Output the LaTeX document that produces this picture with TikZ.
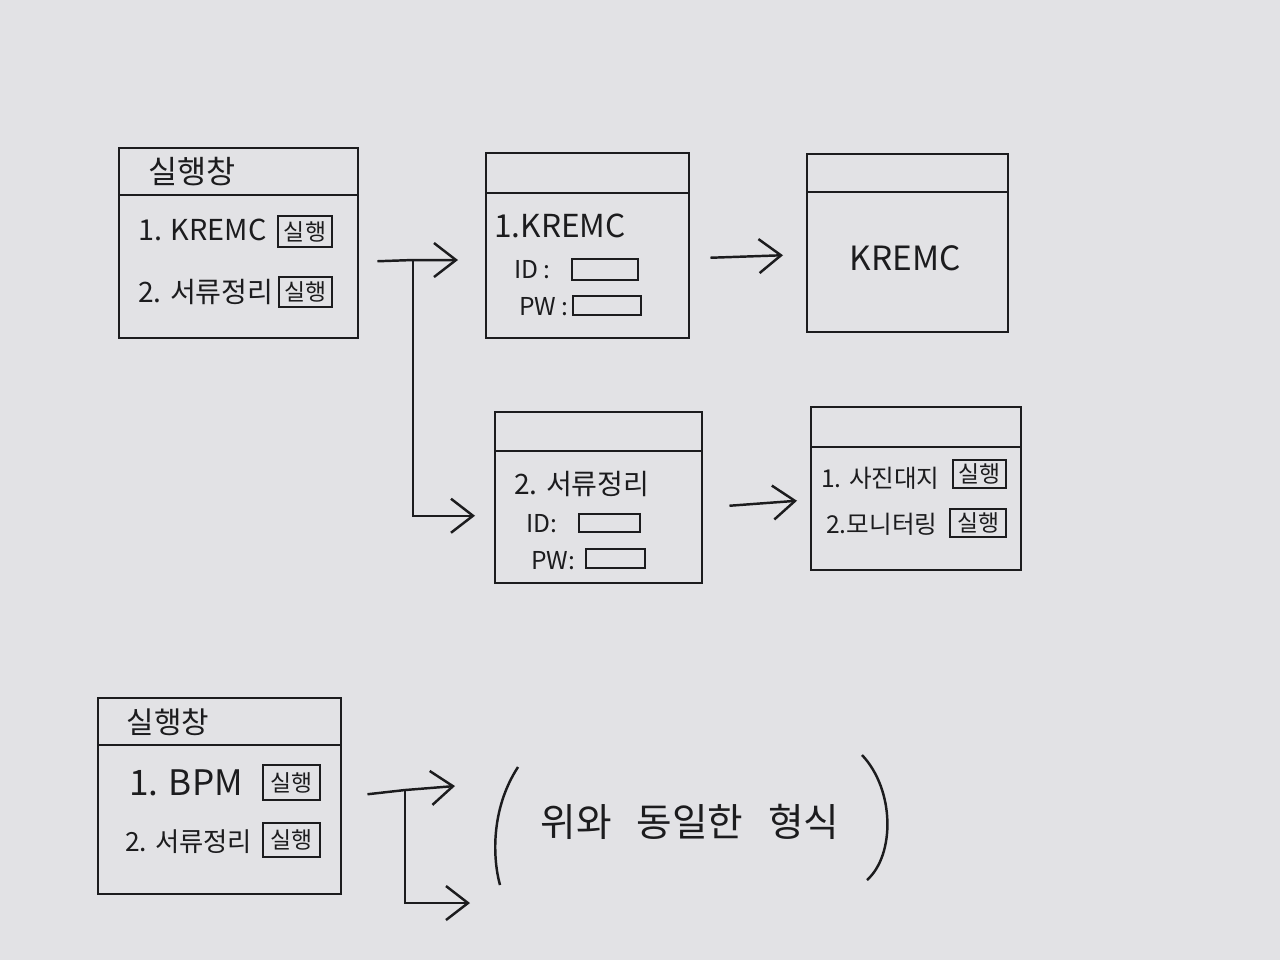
\documentclass[tikz,border=0pt]{standalone}
\usepackage{fontspec}
\setmainfont{Noto Sans CJK KR}
\usepackage{tikz}
\usetikzlibrary{positioning, arrows.meta}
\definecolor{paper}{RGB}{226,226,229}
\definecolor{pen}{RGB}{28,28,30}
\tikzset{
	>={Straight Barb[length=2.2mm,width=3.4mm]}, % open arrow heads as in the sketch
	window/.style={draw=pen, anchor=north west, inner sep=0pt}, % a window frame
	title/.style={font=\fontsize{9}{10}\selectfont}, % window title
	item/.style={anchor=west, inner sep=0pt, font=\fontsize{8}{9}\selectfont}, % menu line
	small/.style={anchor=west, inner sep=0pt, font=\fontsize{7}{8}\selectfont}, % ID / PW
	btn/.style={draw=pen, inner sep=0pt, font=\fontsize{6.5}{7}\selectfont}, % run button
	field/.style={draw=pen, inner sep=0pt}, % input box
}

\begin{document}
\begin{tikzpicture}[line width=0.7pt, color=pen, text=pen]
	\path[use as bounding box, fill=paper] (0,0) rectangle (12.8,-9.6);

	% launcher window (top)
	\node[window, minimum width=2.39cm, minimum height=1.90cm] (main1) at (1.18,-1.47) {};
	\draw ([yshift=-0.48cm]main1.north west) -- ([yshift=-0.48cm]main1.north east);
	\node[title] (main1t) at (1.92,-1.72) {실행창};
	\node[item, font=\fontsize{8.2}{9}\selectfont] (main1a) at (1.37,-2.30) {1. KREMC};
	\node[btn, minimum width=0.54cm, minimum height=0.31cm] (main1b) at (3.05,-2.315) {실행};
	\node[item] (main1c) at (1.37,-2.92) {2. 서류정리};
	\node[btn, minimum width=0.53cm, minimum height=0.30cm] (main1d) at (3.055,-2.92) {실행};

	% KREMC login
	\node[window, minimum width=2.03cm, minimum height=1.85cm] (login1) at (4.85,-1.52) {};
	\draw ([yshift=-0.41cm]login1.north west) -- ([yshift=-0.41cm]login1.north east);
	\node[item, font=\fontsize{9}{10}\selectfont] (login1a) at (4.93,-2.26) {1.KREMC};
	\node[small] (login1id) at (5.13,-2.70) {ID :};
	\node[field, minimum width=0.66cm, minimum height=0.21cm] (login1f) at (6.05,-2.695) {};
	\node[small] (login1pw) at (5.18,-3.07) {PW :};
	\node[field, minimum width=0.68cm, minimum height=0.19cm] (login1g) at (6.07,-3.055) {};

	% KREMC screen
	\node[window, minimum width=2.01cm, minimum height=1.78cm] (kremc) at (8.06,-1.53) {};
	\draw ([yshift=-0.39cm]kremc.north west) -- ([yshift=-0.39cm]kremc.north east);
	\node[font=\fontsize{9.5}{10}\selectfont] (kremct) at (9.05,-2.58) {KREMC};

	% documents login
	\node[window, minimum width=2.07cm, minimum height=1.71cm] (login2) at (4.94,-4.11) {};
	\draw ([yshift=-0.40cm]login2.north west) -- ([yshift=-0.40cm]login2.north east);
	\node[item] (login2a) at (5.13,-4.84) {2. 서류정리};
	\node[small] (login2id) at (5.25,-5.24) {ID:};
	\node[field, minimum width=0.61cm, minimum height=0.18cm] (login2f) at (6.095,-5.23) {};
	\node[small] (login2pw) at (5.30,-5.61) {PW:};
	\node[field, minimum width=0.59cm, minimum height=0.19cm] (login2g) at (6.155,-5.585) {};

	% documents menu
	\node[window, minimum width=2.10cm, minimum height=1.63cm] (menu2) at (8.10,-4.06) {};
	\draw ([yshift=-0.41cm]menu2.north west) -- ([yshift=-0.41cm]menu2.north east);
	\node[small] (menu2a) at (8.20,-4.78) {1. 사진대지};
	\node[btn, minimum width=0.53cm, minimum height=0.28cm] (menu2b) at (9.795,-4.74) {실행};
	\node[small] (menu2c) at (8.25,-5.24) {2.모니터링};
	\node[btn, minimum width=0.56cm, minimum height=0.28cm] (menu2d) at (9.78,-5.23) {실행};

	% launcher window (bottom)
	\node[window, minimum width=2.43cm, minimum height=1.96cm] (main2) at (0.97,-6.97) {};
	\draw ([yshift=-0.48cm]main2.north west) -- ([yshift=-0.48cm]main2.north east);
	\node[title, font=\fontsize{8.5}{9}\selectfont] (main2t) at (1.68,-7.22) {실행창};
	\node[item, font=\fontsize{10}{11}\selectfont] (main2a) at (1.28,-7.83) {1. BPM};
	\node[btn, minimum width=0.57cm, minimum height=0.35cm] (main2b) at (2.915,-7.825) {실행};
	\node[item, font=\fontsize{7.5}{8}\selectfont] (main2c) at (1.24,-8.42) {2. 서류정리};
	\node[btn, minimum width=0.57cm, minimum height=0.34cm] (main2d) at (2.915,-8.40) {실행};

	% note in brackets
	\node[font=\fontsize{11}{12}\selectfont] (same) at (6.90,-8.22) {위와\hspace{2.5mm}동일한\hspace{2.5mm}형식};
	\draw (5.18,-7.67) .. controls (4.90,-8.10) and (4.93,-8.60) .. (5.00,-8.85);
	\draw (8.62,-7.55) .. controls (8.95,-7.90) and (8.95,-8.55) .. (8.67,-8.80);

	% connectors
	\coordinate (split1) at (4.13,-2.60);
	\coordinate (split2) at (4.05,-7.90);
	\coordinate (next1) at (4.55,-7.86);
	\coordinate (next2) at (4.70,-9.03);
	\draw[->] ([shift={(0.18,-0.18)}]main1.east) -- (split1) -- ([xshift=-0.27cm]login1.west |- split1);
	\draw[->] (split1) |- ([shift={(-0.19,-0.18)}]login2.west);
	\draw[->] ([shift={(0.20,-0.12)}]login1.east) -- ([shift={(-0.23,-0.12)}]kremc.west);
	\draw[->] ([shift={(0.26,-0.08)}]login2.east) -- ([shift={(-0.13,-0.12)}]menu2.west);
	\draw[->] ([shift={(0.25,0.02)}]main2.east) -- (split2) -- (next1);
	\draw[->] (split2) |- (next2);
\end{tikzpicture}
\end{document}
